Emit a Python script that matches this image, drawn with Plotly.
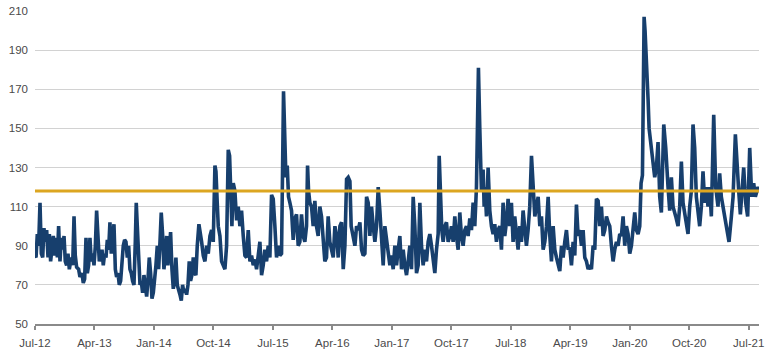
import plotly.graph_objects as go

# Decimal-year positions and index values
YEARS = [
    2012.500, 2012.513, 2012.529, 2012.546, 2012.563, 2012.580, 2012.597, 2012.613, 2012.630, 2012.647,
    2012.664, 2012.681, 2012.697, 2012.714, 2012.731, 2012.748, 2012.765, 2012.782, 2012.798, 2012.815,
    2012.832, 2012.849, 2012.866, 2012.882, 2012.899, 2012.916, 2012.933, 2012.958, 2012.975, 2012.992,
    2013.008, 2013.025, 2013.050, 2013.067, 2013.092, 2013.109, 2013.126, 2013.143, 2013.160, 2013.176,
    2013.193, 2013.210, 2013.227, 2013.244, 2013.261, 2013.277, 2013.294, 2013.311, 2013.328, 2013.345,
    2013.361, 2013.378, 2013.395, 2013.412, 2013.429, 2013.445, 2013.462, 2013.479, 2013.496, 2013.513,
    2013.529, 2013.546, 2013.563, 2013.580, 2013.597, 2013.613, 2013.630, 2013.647, 2013.664, 2013.681,
    2013.697, 2013.714, 2013.731, 2013.748, 2013.765, 2013.777, 2013.790, 2013.807, 2013.824, 2013.840,
    2013.857, 2013.874, 2013.891, 2013.908, 2013.924, 2013.941, 2013.958, 2013.975, 2013.992, 2014.008,
    2014.025, 2014.042, 2014.059, 2014.076, 2014.092, 2014.109, 2014.126, 2014.143, 2014.160, 2014.176,
    2014.193, 2014.210, 2014.227, 2014.244, 2014.261, 2014.277, 2014.294, 2014.311, 2014.328, 2014.345,
    2014.361, 2014.378, 2014.395, 2014.412, 2014.429, 2014.445, 2014.462, 2014.479, 2014.496, 2014.513,
    2014.529, 2014.546, 2014.567,
    2014.601, 2014.622, 2014.643, 2014.664, 2014.685, 2014.706, 2014.727, 2014.748, 2014.769, 2014.782,
    2014.798, 2014.811, 2014.832, 2014.853, 2014.874, 2014.895, 2014.916, 2014.937, 2014.954, 2014.971,
    2014.983, 2015.000, 2015.021, 2015.042, 2015.063, 2015.084, 2015.105, 2015.126, 2015.147, 2015.168,
    2015.189, 2015.210, 2015.231, 2015.252, 2015.273, 2015.294, 2015.315, 2015.336, 2015.357, 2015.378,
    2015.399, 2015.420, 2015.441, 2015.462, 2015.483, 2015.504, 2015.525, 2015.546, 2015.567, 2015.588,
    2015.609, 2015.626, 2015.634, 2015.647, 2015.664, 2015.681, 2015.697, 2015.714, 2015.735, 2015.756,
    2015.777, 2015.798, 2015.819, 2015.840, 2015.861, 2015.882, 2015.903, 2015.924, 2015.937, 2015.950,
    2015.966, 2015.987, 2016.008, 2016.029, 2016.050, 2016.071, 2016.092, 2016.113, 2016.134, 2016.155,
    2016.176, 2016.197, 2016.218, 2016.239, 2016.261, 2016.282, 2016.303, 2016.324, 2016.345, 2016.366,
    2016.387, 2016.408, 2016.429, 2016.450, 2016.471, 2016.487, 2016.513, 2016.534, 2016.555, 2016.576,
    2016.597, 2016.618, 2016.639, 2016.660, 2016.681, 2016.702, 2016.723,
    2016.744, 2016.765, 2016.786, 2016.807, 2016.828, 2016.849, 2016.870, 2016.891, 2016.912, 2016.933,
    2016.954, 2016.975, 2016.996, 2017.017, 2017.038, 2017.059, 2017.080, 2017.101, 2017.122, 2017.143,
    2017.164, 2017.185, 2017.206, 2017.227, 2017.248, 2017.269, 2017.290, 2017.311, 2017.332, 2017.353,
    2017.374, 2017.395, 2017.416, 2017.437, 2017.458, 2017.479, 2017.500, 2017.521, 2017.542, 2017.563,
    2017.584, 2017.597, 2017.613, 2017.630, 2017.647, 2017.668, 2017.689, 2017.710, 2017.731, 2017.752,
    2017.773, 2017.794, 2017.815, 2017.836, 2017.857, 2017.878, 2017.899, 2017.920, 2017.941, 2017.962,
    2017.983, 2018.004, 2018.025, 2018.046, 2018.067, 2018.080, 2018.092, 2018.109, 2018.130, 2018.151,
    2018.164, 2018.176, 2018.193, 2018.214, 2018.235, 2018.256, 2018.277, 2018.298, 2018.319, 2018.340,
    2018.361, 2018.382, 2018.403, 2018.424, 2018.445, 2018.466, 2018.487, 2018.508, 2018.529, 2018.550,
    2018.571, 2018.592, 2018.613, 2018.634, 2018.655, 2018.676, 2018.697, 2018.718, 2018.739, 2018.761,
    2018.782, 2018.803, 2018.824, 2018.845, 2018.866, 2018.887, 2018.908, 2018.929, 2018.950, 2018.971,
    2018.992, 2019.013, 2019.034, 2019.055, 2019.076, 2019.097, 2019.118, 2019.139, 2019.160, 2019.181,
    2019.202, 2019.223,
    2019.244, 2019.265, 2019.286, 2019.307, 2019.328, 2019.349, 2019.370, 2019.391, 2019.412, 2019.433,
    2019.454, 2019.475, 2019.496, 2019.517, 2019.538, 2019.559, 2019.580, 2019.601, 2019.622, 2019.643,
    2019.664, 2019.685, 2019.706, 2019.727, 2019.748, 2019.769, 2019.790, 2019.811, 2019.832, 2019.853,
    2019.874, 2019.895, 2019.916, 2019.937, 2019.958, 2019.979, 2020.000, 2020.021, 2020.042, 2020.063,
    2020.084, 2020.105,
    2020.126, 2020.143, 2020.160, 2020.172, 2020.181, 2020.193, 2020.210, 2020.231, 2020.244, 2020.261,
    2020.286, 2020.315, 2020.336, 2020.357, 2020.378, 2020.399, 2020.429, 2020.454, 2020.483, 2020.504,
    2020.525, 2020.546, 2020.580, 2020.609, 2020.630, 2020.651, 2020.672, 2020.706, 2020.735, 2020.756,
    2020.777, 2020.798, 2020.819, 2020.840, 2020.861, 2020.882, 2020.903, 2020.924, 2020.945, 2020.966,
    2020.987, 2021.008, 2021.029, 2021.059, 2021.084, 2021.113, 2021.134, 2021.155, 2021.176, 2021.197,
    2021.227, 2021.252, 2021.282, 2021.303, 2021.332, 2021.353, 2021.374, 2021.395, 2021.420, 2021.437,
    2021.462, 2021.487, 2021.513, 2021.538, 2021.563, 2021.584, 2021.618, 2021.630,
]

VALUES = [
    85, 84, 96, 90, 112, 86, 84, 99, 92, 98,
    84, 96, 82, 88, 95, 85, 94, 84, 100, 82,
    94, 88, 95, 82, 80, 86, 78, 84, 80, 105,
    85, 79, 78, 74, 76, 71, 73, 94, 76, 80,
    94, 82, 86, 80, 90, 108, 96, 82, 85, 88,
    80, 86, 84, 93, 88, 102, 86, 92, 101, 78,
    74, 76, 70, 72, 86, 90, 93, 92, 84, 90,
    78, 76, 72, 70, 92, 112, 100, 78, 70, 72,
    66, 75, 68, 64, 72, 84, 76, 63, 66, 72,
    80, 90, 78, 92, 107, 96, 78, 85, 95, 80,
    90, 97, 78, 68, 72, 84, 70, 68, 65, 62,
    70, 66, 68, 65, 70, 82, 72, 75, 84, 76,
    75, 90, 101,
    92, 85, 82, 90, 86, 95, 98, 92, 131, 128,
    112, 100, 95, 82, 80, 78, 90, 139, 136, 110,
    100, 122, 118, 103, 110, 100, 108, 95, 85, 84,
    98, 82, 85, 80, 83, 78, 86, 92, 75, 80,
    88, 82, 90, 84, 116, 114, 100, 84, 90, 85,
    86, 150, 169, 150, 125, 131, 115, 112, 108, 93,
    104, 106, 90, 92, 106, 95, 92, 100, 131, 118,
    112, 110, 100, 113, 100, 95, 110, 105, 90, 82,
    84, 105, 92, 88, 84, 100, 95, 84, 100, 102,
    78, 90, 124, 125, 123, 100, 95, 90, 100, 98,
    102, 88, 85, 86, 115, 112, 95,
    110, 100, 92, 100, 120, 108, 90, 80, 100, 92,
    88, 80, 85, 78, 90, 80, 88, 95, 78, 88,
    80, 75, 82, 90, 78, 115, 100, 76, 80, 112,
    90, 80, 88, 82, 92, 96, 90, 82, 76, 88,
    96, 136, 115, 98, 92, 100, 102, 92, 95, 100,
    92, 105, 95, 88, 107, 95, 90, 98, 100, 95,
    104, 98, 112, 100, 120, 178, 181, 150, 118, 129,
    110, 120, 105, 130, 108, 100, 96, 101, 92, 98,
    100, 88, 112, 95, 102, 114, 100, 112, 92, 105,
    95, 88, 100, 92, 108, 96, 90, 98, 110, 136,
    118, 105, 110, 115, 100, 105, 88, 92, 100, 115,
    95, 82, 100, 88, 84, 80, 77, 90, 84, 92,
    98, 88,
    89, 80, 92, 85, 111, 95, 98, 90, 98, 84,
    82, 78, 80, 78, 90, 88, 114, 113, 100, 110,
    95, 98, 105, 102, 100, 90, 82, 88, 92, 90,
    96, 95, 105, 90, 100, 96, 86, 90, 98, 107,
    98, 96,
    100, 122, 126, 180, 207, 200, 187, 165, 150, 143,
    136, 125, 130, 143, 115, 107, 152, 140, 120, 108,
    125, 110, 105, 100, 110, 133, 112, 102, 96, 110,
    118, 152, 140, 115, 105, 100, 110, 128, 112, 120,
    110, 120, 105, 157, 120, 110, 127, 115, 110, 105,
    97, 92, 105, 115, 147, 130, 118, 106, 120, 130,
    112, 105, 140, 115, 122, 115, 120, 118,
]

LONG_RUN_AVERAGE = 118

TICK_POSITIONS = [2012.5, 2013.25, 2014.0, 2014.75, 2015.5, 2016.25, 2017.0,
                  2017.75, 2018.5, 2019.25, 2020.0, 2020.75, 2021.5]
TICK_LABELS = ["Jul-12", "Apr-13", "Jan-14", "Oct-14", "Jul-15", "Apr-16", "Jan-17",
               "Oct-17", "Jul-18", "Apr-19", "Jan-20", "Oct-20", "Jul-21"]
Y_TICKS = [50, 70, 90, 110, 130, 150, 170, 190, 210]

NAVY = "#173f6d"
GOLD = "#dca621"

fig = go.Figure()
fig.add_trace(go.Scatter(
    x=YEARS, y=VALUES, mode="lines",
    line=dict(color=NAVY, width=3.6),
    showlegend=False, hoverinfo="skip",
))
fig.add_trace(go.Scatter(
    x=[YEARS[0], YEARS[-1]], y=[LONG_RUN_AVERAGE, LONG_RUN_AVERAGE], mode="lines",
    line=dict(color=GOLD, width=3),
    showlegend=False, hoverinfo="skip",
))

fig.update_layout(
    width=770, height=352,
    margin=dict(l=35, r=11, t=11, b=28, autoexpand=False),
    paper_bgcolor="white", plot_bgcolor="white",
    font=dict(family="Liberation Sans, Arial, sans-serif", size=11, color="#4a4a4a"),
)
fig.update_xaxes(
    range=[YEARS[0], YEARS[-1]], automargin=False,
    tickmode="array", tickvals=TICK_POSITIONS, ticktext=TICK_LABELS,
    showgrid=False, zeroline=False,
    showline=True, linecolor="#8a8a8a", linewidth=1.5,
    ticks="outside", ticklen=4, tickcolor="#8a8a8a", tickwidth=1.5,
    ticklabelstandoff=3,
    tickfont=dict(size=11.5, color="#4a4a4a"),
)
fig.update_yaxes(
    range=[50, 210], automargin=False,
    tickmode="array", tickvals=Y_TICKS,
    showgrid=True, gridcolor="#d2d2d2", gridwidth=1,
    zeroline=False, showline=False, ticks="",
    ticklabelstandoff=6,
    tickfont=dict(size=11.5, color="#4a4a4a"),
)

fig.write_html("out.html")
